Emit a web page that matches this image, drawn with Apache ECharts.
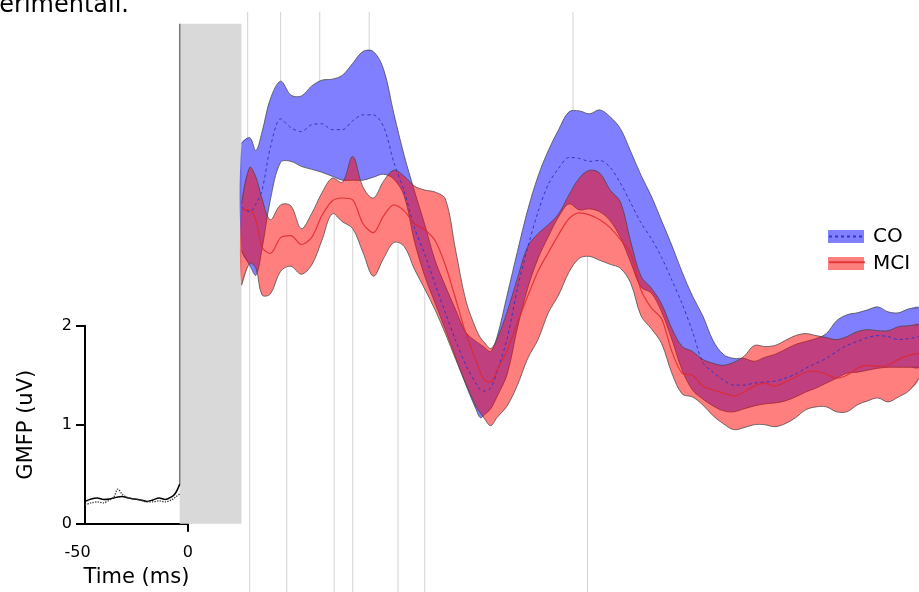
<!DOCTYPE html>
<html><head><meta charset="utf-8">
<script src="https://cdn.jsdelivr.net/npm/echarts@6/dist/echarts.min.js"></script>
<style>html,body{margin:0;padding:0;background:#fff}#c{width:919px;height:592px}</style>
</head><body><div id="c"></div>
<script>
// ---- data (ms, uV) ----
const time = [26,30,33,36,40,45,50,55,60,65,70,75,80,85,90,95,100,105,110,115,120,125,130,135,140,142,144,147,150,155,160,165,170,175,180,185,190,195,200,205,210,215,220,225,230,235,240,245,250,255,260,265,270,275,280,285,290,295,300,305,310,315,320,325,330,335,340,345,350,355];
const coUpper = [3.84,3.90,3.77,3.96,4.29,4.47,4.33,4.32,4.42,4.48,4.49,4.53,4.65,4.77,4.77,4.59,4.14,3.72,3.36,3.02,2.66,2.40,2.16,1.93,1.84,1.81,1.78,1.74,1.88,2.31,2.75,3.17,3.51,3.77,3.98,4.16,4.17,4.14,4.18,4.11,3.99,3.76,3.52,3.31,3.06,2.81,2.54,2.30,2.10,1.85,1.71,1.67,1.67,1.64,1.68,1.71,1.76,1.81,1.84,1.87,1.92,2.05,2.11,2.13,2.16,2.19,2.14,2.13,2.17,2.18];
const coLower = [2.76,2.61,2.51,2.78,3.27,3.65,3.66,3.61,3.58,3.55,3.51,3.47,3.47,3.47,3.50,3.53,3.48,3.31,2.85,2.50,2.23,1.96,1.68,1.40,1.15,1.07,1.10,1.16,1.28,1.51,1.98,2.38,2.68,2.90,3.10,3.23,3.17,3.18,3.15,3.06,2.89,2.64,2.39,2.33,2.14,1.86,1.55,1.35,1.26,1.19,1.14,1.13,1.16,1.19,1.21,1.22,1.24,1.28,1.33,1.37,1.42,1.47,1.52,1.53,1.55,1.57,1.58,1.58,1.58,1.58];
const coMean = [3.20,3.15,3.23,3.37,3.80,4.09,4.00,3.96,4.03,4.04,3.98,3.98,4.07,4.13,4.13,4.01,3.65,3.36,2.99,2.72,2.42,2.13,1.85,1.60,1.41,1.35,1.34,1.37,1.53,1.87,2.38,2.79,3.15,3.43,3.59,3.70,3.69,3.66,3.67,3.60,3.44,3.24,3.04,2.88,2.69,2.46,2.22,1.94,1.63,1.53,1.45,1.40,1.40,1.42,1.43,1.44,1.47,1.51,1.57,1.62,1.67,1.74,1.80,1.84,1.88,1.90,1.89,1.86,1.87,1.89];
const mciUpper = [3.23,3.60,3.50,3.28,3.07,3.22,3.21,2.98,3.13,3.34,3.49,3.45,3.71,3.40,3.29,3.46,3.57,3.51,3.41,3.37,3.35,3.28,2.76,2.25,1.96,1.88,1.83,1.77,1.86,2.14,2.48,2.80,2.93,3.02,3.13,3.32,3.49,3.57,3.54,3.37,3.25,2.85,2.50,2.38,2.22,1.97,1.79,1.74,1.66,1.62,1.60,1.63,1.69,1.80,1.79,1.80,1.85,1.90,1.92,1.90,1.88,1.86,1.89,1.94,1.96,1.95,1.95,1.99,2.00,2.01];
const mciLower = [2.41,2.63,2.58,2.31,2.32,2.55,2.60,2.52,2.61,2.86,3.13,3.05,2.98,2.74,2.50,2.68,2.84,2.80,2.57,2.37,2.16,1.92,1.66,1.41,1.18,1.12,1.06,0.99,1.07,1.19,1.40,1.67,1.86,2.13,2.31,2.54,2.68,2.70,2.66,2.62,2.58,2.43,2.10,1.97,1.82,1.52,1.31,1.28,1.20,1.09,1.01,0.95,0.97,1.00,1.00,0.98,1.01,1.07,1.15,1.18,1.18,1.13,1.13,1.20,1.24,1.27,1.23,1.28,1.34,1.47];
const mciMean = [3.17,3.17,3.06,2.79,2.73,2.89,2.91,2.82,2.89,3.11,3.26,3.29,3.27,3.03,2.94,3.11,3.22,3.16,3.03,2.97,2.86,2.61,2.27,1.92,1.64,1.53,1.45,1.43,1.55,1.75,2.03,2.30,2.55,2.74,2.92,3.08,3.14,3.12,3.07,2.99,2.87,2.73,2.36,2.18,2.07,1.74,1.52,1.50,1.39,1.35,1.32,1.29,1.33,1.39,1.42,1.39,1.43,1.48,1.53,1.54,1.51,1.47,1.50,1.57,1.60,1.59,1.60,1.66,1.70,1.72];
// pre-stimulus baseline (inset)
const baselineTime = [-50,-47,-44,-41,-38,-36,-34,-32,-29,-26,-23,-20,-17,-14,-11,-8,-6,-4];
const baselineMCI = [0.225,0.25,0.26,0.245,0.25,0.26,0.27,0.275,0.26,0.25,0.24,0.225,0.24,0.26,0.245,0.27,0.31,0.40];
const baselineCO  = [0.19,0.21,0.22,0.21,0.24,0.27,0.35,0.30,0.26,0.25,0.24,0.22,0.22,0.23,0.22,0.24,0.27,0.30];
// peak latencies (ms)
const coPeaks = [29,45,64,88,187];
const mciPeaks = [30,48,71,80,102,115,194];
// masked TMS artifact window (ms)
const artifactWindow = [-4, 26];
const xTicks = [-50, 0];
const yTicks = [0, 1, 2];

// ---- style constants ----
const FONT = 'DejaVu Sans';
const ARTIFACT_TOP = 5.05;
const PEAK_TOP = 5.17;
const Y_MIN = -0.69, Y_MAX = 5.29;
const EDGE = 'rgba(70,70,70,0.75)';
const SMOOTH = 0.35;

function interp(arr, t) {
  for (let i = 0; i < time.length - 1; i++) {
    if (t >= time[i] && t <= time[i + 1]) {
      const f = (t - time[i]) / (time[i + 1] - time[i]);
      return arr[i] + f * (arr[i + 1] - arr[i]);
    }
  }
  return arr[0];
}

function bandRenderer(upArr, loArr, fill) {
  return function (params, api) {
    if (params.dataIndex !== 0) return;
    const up = time.map((t, i) => api.coord([t, upArr[i]]));
    const lo = time.map((t, i) => api.coord([t, loArr[i]]));
    return {
      type: 'group',
      children: [
        { type: 'polygon', shape: { points: up.concat(lo.slice().reverse()), smooth: SMOOTH }, style: { fill: fill, stroke: null } },
        { type: 'polyline', shape: { points: up, smooth: SMOOTH }, style: { stroke: EDGE, lineWidth: 1, fill: null } },
        { type: 'polyline', shape: { points: lo, smooth: SMOOTH }, style: { stroke: EDGE, lineWidth: 1, fill: null } }
      ]
    };
  };
}

const chart = echarts.init(document.getElementById('c'), null, { renderer: 'canvas' });
const option = {
  animation: false,
  backgroundColor: '#fff',
  textStyle: { fontFamily: FONT },
  grid: [
    { left: 85, top: 325.7, width: 102.96, height: 198 },
    { left: 85, top: 0, width: 834, height: 592 }
  ],
  xAxis: [
    {
      gridIndex: 0, type: 'value', min: xTicks[0], max: xTicks[1], interval: 50,
      axisLine: { show: true, onZero: false, lineStyle: { color: '#000', width: 2 } },
      axisTick: { show: true, length: 8, customValues: [0], lineStyle: { color: '#000', width: 2 } },
      axisLabel: {
        color: '#000', fontSize: 16, margin: 21, fontFamily: FONT,
        formatter: v => v === -50 ? '{n|-50}' : '{z|' + v + '}',
        rich: { n: { fontSize: 16, fontFamily: FONT, color: '#000', padding: [0, 15, 0, 0] }, z: { fontSize: 16, fontFamily: FONT, color: '#000' } }
      },
      splitLine: { show: false },
      name: 'Time (ms)', nameLocation: 'middle', nameGap: 43,
      nameTextStyle: { fontSize: 21, color: '#000', fontFamily: FONT }
    },
    { gridIndex: 1, type: 'value', min: -50, max: 355, show: false }
  ],
  yAxis: [
    {
      gridIndex: 0, type: 'value', min: yTicks[0], max: yTicks[2], interval: 1,
      axisLine: { show: true, onZero: false, lineStyle: { color: '#000', width: 2 } },
      axisTick: { show: true, length: 9, lineStyle: { color: '#000', width: 2 } },
      axisLabel: { color: '#000', fontSize: 16, margin: 13, fontFamily: FONT },
      splitLine: { show: false },
      name: 'GMFP (uV)', nameLocation: 'middle', nameGap: 48,
      nameTextStyle: { fontSize: 21, color: '#000', fontFamily: FONT }
    },
    { gridIndex: 1, type: 'value', min: Y_MIN, max: Y_MAX, show: false }
  ],
  legend: [
    {
      data: ['CO', 'MCI'], orient: 'vertical', left: 828, top: 226.5, padding: 0,
      itemWidth: 36, itemHeight: 13, itemGap: 7, icon: 'rect', selectedMode: false,
      itemStyle: { borderWidth: 0 },
      textStyle: { fontSize: 20, color: '#000', fontFamily: FONT, padding: [0, 0, 0, 4] }
    },
    {
      data: ['CO mean', 'MCI mean'], orient: 'vertical', left: 828, top: 230, padding: 0, z: 6,
      itemWidth: 36, itemHeight: 13, itemGap: 14, selectedMode: false,
      itemStyle: { opacity: 0 },
      formatter: () => '', textStyle: { fontSize: 1 }
    }
  ],
  graphic: [
    {
      type: 'text', x: 129, y: 18, silent: true,
      style: { text: 'erimentali.', fill: '#000', fontSize: 24, fontFamily: FONT, align: 'right', textAlign: 'right', verticalAlign: 'bottom', textVerticalAlign: 'bottom' }
    }
  ],
  series: [
    {
      name: 'artifact', type: 'custom', xAxisIndex: 1, yAxisIndex: 1, z: 1, silent: true,
      data: [[artifactWindow[0], artifactWindow[1]]],
      renderItem: function (params, api) {
        const p0 = api.coord([api.value(0), ARTIFACT_TOP]);
        const p1 = api.coord([api.value(1), 0]);
        const e0 = api.coord([api.value(0), baselineMCI[baselineMCI.length - 1]]);
        return {
          type: 'group', children: [
            { type: 'rect', shape: { x: p0[0], y: p0[1], width: p1[0] - p0[0], height: p1[1] - p0[1] }, style: { fill: '#d9d9d9' } },
            { type: 'line', shape: { x1: e0[0], y1: e0[1], x2: p0[0], y2: p0[1] }, style: { stroke: '#7a7a7a', lineWidth: 1.5 } }
          ]
        };
      }
    },
    {
      name: 'coPeakLines', type: 'custom', xAxisIndex: 1, yAxisIndex: 1, z: 1, silent: true,
      data: coPeaks.map(t => [t, interp(coUpper, t)]),
      renderItem: function (params, api) {
        const a = api.coord([api.value(0), PEAK_TOP]);
        const b = api.coord([api.value(0), api.value(1)]);
        return { type: 'line', shape: { x1: a[0], y1: a[1], x2: b[0], y2: b[1] }, style: { stroke: '#d2d2d2', lineWidth: 1 } };
      }
    },
    {
      name: 'mciPeakLines', type: 'custom', xAxisIndex: 1, yAxisIndex: 1, z: 1, silent: true,
      data: mciPeaks.map(t => [t, interp(mciLower, t)]),
      renderItem: function (params, api) {
        const a = api.coord([api.value(0), Y_MIN]);
        const b = api.coord([api.value(0), api.value(1)]);
        return { type: 'line', shape: { x1: a[0], y1: a[1], x2: b[0], y2: b[1] }, style: { stroke: '#d2d2d2', lineWidth: 1 } };
      }
    },
    {
      name: 'CO', type: 'custom', xAxisIndex: 1, yAxisIndex: 1, z: 2, silent: true,
      itemStyle: { color: 'rgba(0,0,255,0.5)' },
      encode: { x: 0, y: [1, 2] },
      data: time.map((t, i) => [t, coUpper[i], coLower[i]]),
      renderItem: bandRenderer(coUpper, coLower, 'rgba(0,0,255,0.5)')
    },
    {
      name: 'MCI', type: 'custom', xAxisIndex: 1, yAxisIndex: 1, z: 3, silent: true,
      itemStyle: { color: 'rgba(255,0,0,0.5)' },
      encode: { x: 0, y: [1, 2] },
      data: time.map((t, i) => [t, mciUpper[i], mciLower[i]]),
      renderItem: bandRenderer(mciUpper, mciLower, 'rgba(255,0,0,0.5)')
    },
    {
      name: 'CO mean', type: 'line', xAxisIndex: 1, yAxisIndex: 1, z: 4, silent: true,
      smooth: 0.3, symbol: 'none', color: '#3434c8',
      lineStyle: { color: '#3434c8', width: 1, type: [3, 3] },
      data: time.map((t, i) => [t, coMean[i]])
    },
    {
      name: 'MCI mean', type: 'line', xAxisIndex: 1, yAxisIndex: 1, z: 4, silent: true,
      smooth: 0.3, symbol: 'none', color: '#e0282e',
      lineStyle: { color: 'rgba(224,40,46,0.85)', width: 1.2 },
      data: time.map((t, i) => [t, mciMean[i]])
    },
    {
      name: 'baseline MCI', type: 'line', xAxisIndex: 0, yAxisIndex: 0, z: 4, silent: true,
      smooth: 0.3, symbol: 'none', lineStyle: { color: '#000', width: 1.5 },
      data: baselineTime.map((t, i) => [t, baselineMCI[i]])
    },
    {
      name: 'baseline CO', type: 'line', xAxisIndex: 0, yAxisIndex: 0, z: 4, silent: true,
      smooth: 0.3, symbol: 'none', lineStyle: { color: '#333', width: 1.3, type: 'dotted' },
      data: baselineTime.map((t, i) => [t, baselineCO[i]])
    }
  ]
};
chart.setOption(option);
</script>
</body></html>
